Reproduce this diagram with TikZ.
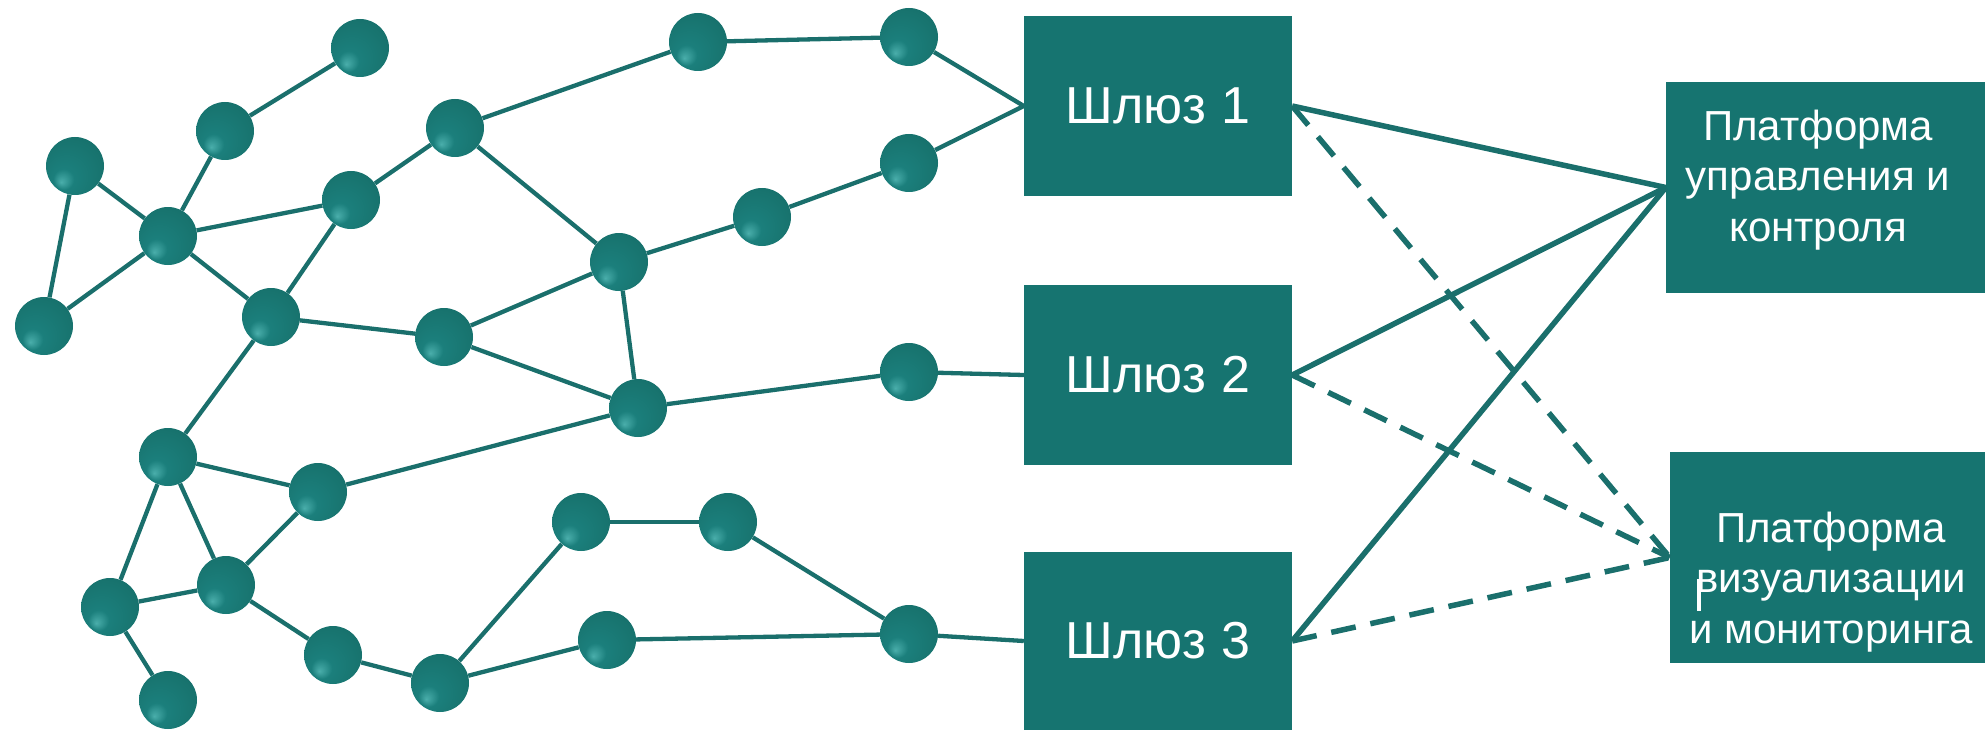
\documentclass[tikz,border=0pt]{standalone}
\usepackage{fontspec}
\setmainfont{Liberation Sans}
\usetikzlibrary{backgrounds}
\definecolor{boxteal}{HTML}{167470}
\definecolor{lineteal}{HTML}{1A6F6C}
\definecolor{ballhi}{HTML}{4AAEAB}
\definecolor{ballmid}{HTML}{1B7F7C}
\definecolor{ballmd}{HTML}{18746F}
\definecolor{balldark}{HTML}{0F6360}
\pgfdeclareradialshading{tealball}{\pgfpoint{-12bp}{-14bp}}{color(0bp)=(ballhi); color(9bp)=(ballmid); color(28bp)=(ballmd); color(50bp)=(balldark)}
\begin{document}
\begin{tikzpicture}[x=1pt,y=-1pt,
  ball/.style={circle,minimum size=58pt,inner sep=0pt,shading=tealball},
  link/.style={draw=lineteal,line width=4.3pt},
  gw/.style={rectangle,fill=boxteal,minimum width=268pt,minimum height=180pt,inner sep=0pt,text=white,font=\fontsize{52}{60}\selectfont},
  plat/.style={rectangle,fill=boxteal,inner sep=0pt},
  plattext/.style={text=white,align=center,inner sep=0pt,font=\fontsize{42}{50.5}\selectfont},
  solidc/.style={draw=lineteal,line width=5.5pt},
  dashc/.style={draw=lineteal,line width=5.5pt,dash pattern=on 25pt off 15pt}]
\useasboundingbox (0,0) rectangle (1985,730);

% balls
\node[ball] (n1) at (360,48) {};
\node[ball] (n2) at (225,131) {};
\node[ball] (n3) at (75,166) {};
\node[ball] (n4) at (168,236) {};
\node[ball] (n5) at (44,326) {};
\node[ball] (n6) at (351,200) {};
\node[ball] (n7) at (455,128) {};
\node[ball] (n8) at (271,317) {};
\node[ball] (n9) at (444,337) {};
\node[ball] (n10) at (619,262) {};
\node[ball] (n11) at (698,42) {};
\node[ball] (n12) at (909,37) {};
\node[ball] (n13) at (909,163) {};
\node[ball] (n14) at (762,217) {};
\node[ball] (n15) at (638,408) {};
\node[ball] (n16) at (909,372) {};
\node[ball] (n17) at (168,457) {};
\node[ball] (n18) at (318,492) {};
\node[ball] (n19) at (110,607) {};
\node[ball] (n20) at (226,585) {};
\node[ball] (n21) at (168,700) {};
\node[ball] (n22) at (333,655) {};
\node[ball] (n23) at (440,683) {};
\node[ball] (n24) at (581,522) {};
\node[ball] (n25) at (728,522) {};
\node[ball] (n26) at (607,640) {};
\node[ball] (n27) at (909,634) {};

% gateways
\node[gw] (G1) at (1158,106) {Шлюз 1};
\node[gw] (G2) at (1158,375) {Шлюз 2};
\node[gw,minimum height=178pt] (G3) at (1158,641) {Шлюз 3};

% platforms
\node[plat,minimum width=319pt,minimum height=211pt] (P1) at (1825.5,187.5) {};
\node[plat,minimum width=315pt,minimum height=211pt] (P2) at (1827.5,557.5) {};
\node[plattext] (P1t) at (1818,180) {Платформа\\управления и\\контроля};
\node[plattext] (P2t) at (1831,582) {Платформа\\визуализации\\и мониторинга};
\draw[white,line width=3.5pt] (1699,579) -- (1699,611);

\begin{scope}[on background layer]
\foreach \a/\b in {n1/n2,n2/n4,n3/n4,n3/n5,n5/n4,n4/n6,n4/n8,n8/n6,n6/n7,n7/n11,n7/n10,
  n8/n9,n9/n10,n9/n15,n10/n15,n10/n14,n14/n13,n11/n12,n15/n16,n8/n17,n17/n18,n17/n19,
  n17/n20,n18/n20,n19/n20,n19/n21,n20/n22,n22/n23,n23/n24,n23/n26,n18/n15,n24/n25,
  n25/n27,n26/n27}
  \draw[link] (\a) -- (\b);
\draw[link] (n12) -- (G1.west);
\draw[link] (n13) -- (G1.west);
\draw[link] (n16) -- (G2.west);
\draw[link] (n27) -- (G3.west);
\end{scope}

\draw[solidc] (G1.east) -- (P1.west);
\draw[solidc] (G2.east) -- (P1.west);
\draw[solidc] (G3.east) -- (P1.west);
\draw[dashc] (G1.east) -- (P2.west);
\draw[dashc] (G2.east) -- (P2.west);
\draw[dashc] (G3.east) -- (P2.west);
\end{tikzpicture}
\end{document}
